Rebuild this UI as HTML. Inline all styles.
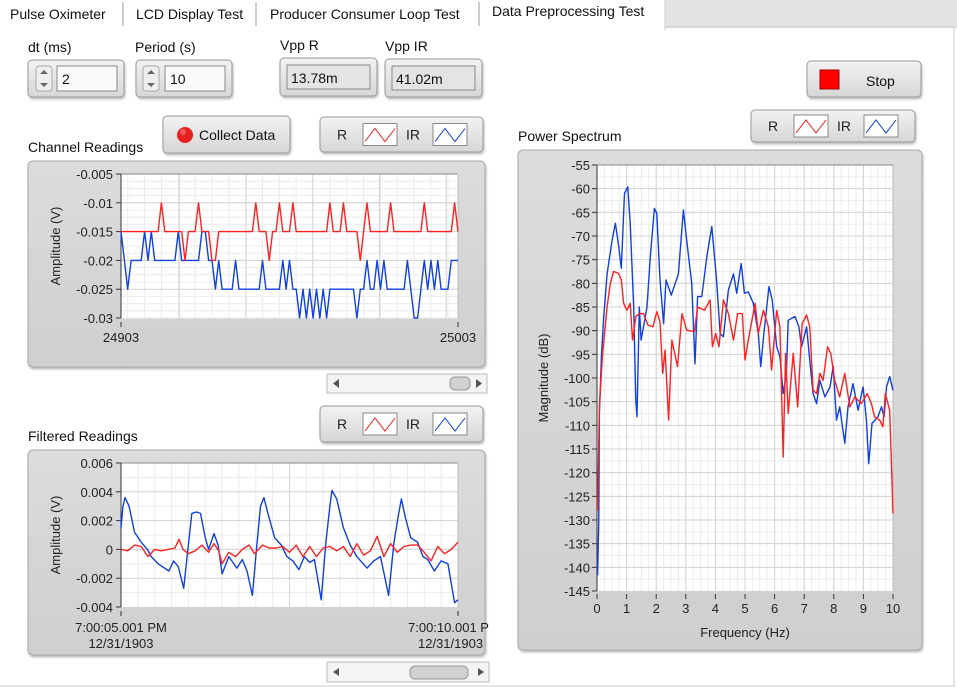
<!DOCTYPE html>
<html><head><meta charset="utf-8">
<style>
html,body{margin:0;padding:0;width:957px;height:688px;overflow:hidden;background:#fff;font-family:"Liberation Sans",sans-serif;}
svg text{font-family:"Liberation Sans",sans-serif;}
</style></head>
<body>
<svg id="ui" width="957" height="688" viewBox="0 0 957 688" xmlns="http://www.w3.org/2000/svg">
<defs>
<linearGradient id="btn" x1="0" y1="0" x2="0" y2="1"><stop offset="0" stop-color="#f2f2f2"/><stop offset="1" stop-color="#d6d6d6"/></linearGradient>
<linearGradient id="frm" x1="0" y1="0" x2="0" y2="1"><stop offset="0" stop-color="#dcdcdc"/><stop offset="1" stop-color="#cfcfcf"/></linearGradient>
<filter id="sh" x="-5%" y="-5%" width="110%" height="120%"><feDropShadow dx="1" dy="2" stdDeviation="1" flood-color="#000" flood-opacity="0.25"/></filter>
</defs>
<!-- tab strip -->
<rect x="0" y="0" width="957" height="28" fill="#fff"/>
<rect x="665" y="0" width="292" height="28" fill="#e3e3e3"/>
<g><text x="10" y="19" font-size="14" fill="#111">Pulse Oximeter</text></g>
<line x1="123" y1="2" x2="123" y2="26" stroke="#ccc" stroke-width="2"/>
<g><text x="136" y="19" font-size="14" fill="#111">LCD Display Test</text></g>
<line x1="256" y1="2" x2="256" y2="26" stroke="#ccc" stroke-width="2"/>
<g><text x="270" y="19" font-size="14" fill="#111">Producer Consumer Loop Test</text></g>
<line x1="479" y1="2" x2="479" y2="26" stroke="#ccc" stroke-width="2"/>
<g><rect x="480" y="0" width="185" height="30" fill="#fff"/><line x1="665" y1="0" x2="665" y2="30" stroke="#ccc"/><text x="492" y="16" font-size="14" fill="#111">Data Preprocessing Test</text></g>
<line x1="665" y1="27" x2="955" y2="27" stroke="#ccc"/>
<line x1="954" y1="28" x2="954" y2="686" stroke="#ccc"/>
<line x1="0" y1="686" x2="955" y2="686" stroke="#ccc"/>

<!-- numeric controls -->
<text x="28" y="52" font-size="14" fill="#111">dt (ms)</text>
<g>
<rect x="28" y="60" width="96" height="37" rx="4" fill="url(#btn)" stroke="#999" filter="url(#sh)"/>
<rect x="36" y="66" width="16" height="25" rx="3" fill="#eee" stroke="#aaa"/>
<path d="M40 74 L44 70 L48 74Z M40 83 L44 87 L48 83Z" fill="#666"/>
<rect x="57" y="66" width="60" height="25" fill="#fafafa" stroke="#888"/>
<text x="62" y="84" font-size="14" fill="#111">2</text></g>
<text x="135" y="52" font-size="14" fill="#111">Period (s)</text>
<g>
<rect x="136" y="60" width="96" height="37" rx="4" fill="url(#btn)" stroke="#999" filter="url(#sh)"/>
<rect x="143" y="66" width="16" height="25" rx="3" fill="#eee" stroke="#aaa"/>
<path d="M147 74 L151 70 L155 74Z M147 83 L151 87 L155 83Z" fill="#666"/>
<rect x="165" y="66" width="60" height="25" fill="#fafafa" stroke="#888"/>
<text x="170" y="84" font-size="14" fill="#111">10</text></g>
<text x="280" y="50" font-size="14" fill="#111">Vpp R</text>
<g>
<rect x="280" y="58" width="97" height="38" rx="4" fill="url(#btn)" stroke="#999" filter="url(#sh)"/>
<rect x="287" y="65" width="83" height="24" fill="#e4e4e4" stroke="#888"/>
<text x="291" y="83" font-size="14" fill="#111">13.78m</text></g>
<text x="385" y="51" font-size="14" fill="#111">Vpp IR</text>
<g>
<rect x="385" y="59" width="97" height="38" rx="4" fill="url(#btn)" stroke="#999" filter="url(#sh)"/>
<rect x="392" y="66" width="83" height="24" fill="#e4e4e4" stroke="#888"/>
<text x="396" y="84" font-size="14" fill="#111">41.02m</text></g>

<g>
<rect x="807" y="61" width="114" height="36" rx="4" fill="url(#btn)" stroke="#999" filter="url(#sh)"/>
<rect x="820" y="70" width="19" height="19" fill="#f00" stroke="#a00"/>
<text x="866" y="86" font-size="14" fill="#111">Stop</text></g>

<g>
<rect x="163" y="116" width="127" height="37" rx="4" fill="url(#btn)" stroke="#999" filter="url(#sh)"/>
<circle cx="185" cy="135" r="8" fill="#e82020"/><circle cx="183" cy="132" r="3" fill="#ff8080" opacity="0.6"/>
<text x="199" y="140" font-size="14" fill="#111">Collect Data</text></g>

<text x="28" y="152" font-size="14" fill="#111">Channel Readings</text>
<text x="28" y="441" font-size="14" fill="#111">Filtered Readings</text>
<text x="518" y="141" font-size="14" fill="#111">Power Spectrum</text>

<g id="legends"></g>

<!-- frames -->
<rect x="28" y="161" width="457" height="206" rx="5" fill="url(#frm)" stroke="#a8a8a8" filter="url(#sh)"/>
<rect x="28" y="450" width="457" height="205" rx="5" fill="url(#frm)" stroke="#a8a8a8" filter="url(#sh)"/>
<rect x="518" y="150" width="404" height="500" rx="5" fill="url(#frm)" stroke="#a8a8a8" filter="url(#sh)"/>

<g id="ch"></g><g id="fi"></g><g id="sp"></g>

<!-- scrollbars -->
<g>
<rect x="327" y="374" width="160" height="19" fill="#f4f4f4" stroke="#bbb"/>
<path d="M333 383.5 L339 379 L339 388Z" fill="#555"/><path d="M482 383.5 L476 379 L476 388Z" fill="#555"/>
<rect x="450" y="377" width="20" height="13" rx="5" fill="#d0d0d0" stroke="#999"/></g>
<g>
<rect x="327" y="662" width="162" height="20" fill="#f4f4f4" stroke="#bbb"/>
<path d="M333 672 L339 668 L339 676Z" fill="#555"/><path d="M484 672 L478 668 L478 676Z" fill="#555"/>
<rect x="410" y="666" width="58" height="13" rx="5" fill="#d0d0d0" stroke="#999"/></g>
</svg>
<script>
// ---------- data ----------
const chSamples = [];
const chRed = [-15,-15,-15,-15,-15,-15,-15,-15,-15,-15,-15,-15,-10,-15,-15,-15,-15,-15,-15,-20,-15,-15,-15,-10,-15,-15,-15,-20,-20,-15,-15,-15,-15,-15,-15,-15,-15,-15,-15,-15,-10,-15,-15,-15,-20,-15,-15,-10,-15,-15,-15,-10,-15,-15,-15,-15,-15,-15,-15,-15,-15,-15,-10,-15,-15,-15,-10,-15,-15,-15,-15,-20,-15,-10,-15,-15,-15,-15,-15,-15,-10,-15,-15,-15,-15,-15,-15,-15,-15,-15,-10,-15,-15,-15,-15,-15,-15,-15,-15,-10,-15];
const chIR = [-15,-20,-25,-20,-20,-20,-20,-15,-20,-15,-20,-20,-20,-20,-20,-20,-20,-15,-20,-20,-20,-20,-20,-20,-15,-15,-20,-20,-25,-20,-25,-25,-25,-25,-20,-25,-25,-25,-25,-25,-25,-25,-20,-25,-25,-25,-25,-25,-20,-25,-20,-25,-25,-30,-25,-30,-25,-30,-25,-30,-25,-30,-25,-25,-25,-25,-25,-25,-25,-25,-30,-25,-25,-20,-25,-25,-20,-25,-20,-25,-25,-25,-25,-25,-25,-20,-25,-30,-30,-25,-20,-25,-20,-25,-20,-25,-25,-25,-20,-20,-20];
const chYTicks = ["-0.005","-0.01","-0.015","-0.02","-0.025","-0.03"];
const chXTicks = ["24903","25003"];

const fiIRt = [0,0.03,0.06,0.12,0.2,0.3,0.39,0.45,0.55,0.71,0.78,0.85,0.93,0.98,1.05,1.12,1.18,1.25,1.3,1.38,1.44,1.5,1.6,1.72,1.8,1.87,1.95,2.0,2.07,2.12,2.18,2.28,2.38,2.46,2.55,2.64,2.72,2.8,2.87,2.97,3.04,3.1,3.13,3.2,3.3,3.4,3.5,3.65,3.75,3.85,3.97,4.05,4.12,4.16,4.22,4.3,4.4,4.48,4.55,4.65,4.75,4.85,4.95,5];
const fiIRv = [1.5,3.0,3.6,3.0,1.2,0.5,0,-0.5,-1.0,-1.5,-0.8,-1.2,-2.7,-0.5,2.5,2.6,2.5,0.8,0,1.1,0.3,-1.7,-0.5,-1.3,-0.7,-1.5,-3.2,-0.5,3.0,3.6,2.5,0.8,0.3,-0.5,-0.8,-1.4,-0.5,-0.9,-0.7,-3.5,0.5,3.0,4.1,3.5,1.5,0.3,-0.5,-1.3,-0.8,-0.5,-3.2,0.5,2.5,3.5,2.2,0.8,0.5,-0.5,-0.7,-1.5,-0.8,-1.0,-3.7,-3.5];
const fiRt = [0,0.1,0.2,0.3,0.4,0.5,0.6,0.7,0.8,0.86,0.92,1.0,1.1,1.2,1.3,1.38,1.45,1.5,1.6,1.7,1.8,1.9,1.98,2.1,2.2,2.3,2.4,2.5,2.6,2.7,2.8,2.9,3.0,3.1,3.2,3.3,3.4,3.5,3.6,3.7,3.8,3.9,4.0,4.1,4.2,4.3,4.4,4.5,4.6,4.7,4.8,4.9,5];
const fiRv = [0,-0.1,0.3,0.2,-0.5,0,-0.1,0,0.1,0.7,0,-0.3,-0.1,0.3,-0.2,0.4,-0.1,-1.0,-0.2,-0.5,0,0.3,-0.3,0.3,0.1,0.1,0.2,-0.2,0.3,-0.5,0.2,-0.5,0.1,0.2,-0.1,0.2,-0.5,0.4,-0.4,-0.1,0.9,-0.5,0.4,-0.2,0.2,0.3,0.3,-0.2,-0.8,0.2,-0.3,0,0.5];
const fiYTicks = ["0.006","0.004","0.002","0","-0.002","-0.004"];

const spIRf = [0.02,0.06,0.08,0.15,0.22,0.34,0.51,0.62,0.73,0.82,0.93,1.04,1.12,1.24,1.31,1.35,1.43,1.49,1.57,1.69,1.80,1.94,2.02,2.13,2.25,2.33,2.51,2.75,2.92,3.03,3.20,3.31,3.40,3.54,3.71,3.88,4.04,4.16,4.27,4.44,4.61,4.72,4.87,4.98,5.11,5.28,5.45,5.53,5.65,5.81,5.92,6.07,6.18,6.29,6.40,6.46,6.69,6.82,6.91,7.08,7.22,7.30,7.42,7.53,7.70,7.87,7.98,8.09,8.20,8.37,8.48,8.65,8.82,8.99,9.10,9.18,9.29,9.49,9.61,9.70,9.78,9.89,10];
const spIRdb = [-141.7,-130,-107.5,-95.5,-87.8,-78,-70.9,-67.3,-72,-76.8,-61,-59.6,-67.3,-85,-104.7,-108.2,-85,-92,-89.2,-85,-74.4,-64.2,-65.2,-79.3,-88.5,-79.3,-82.5,-78,-64.5,-70.9,-80,-97,-82.8,-82.8,-74.4,-68,-79.3,-90.6,-91.3,-81.4,-78,-82.1,-75.8,-82.1,-81.8,-84.2,-90.6,-97.6,-89.9,-80.7,-83.5,-93.4,-95.5,-103.3,-99,-87.8,-87,-89.2,-93.4,-89.2,-98.3,-103.3,-105.4,-100.5,-104,-101.9,-97.6,-108.9,-106.1,-113.8,-106.1,-101.2,-106.8,-101.9,-108.9,-118.1,-109.6,-108.2,-106.1,-108.2,-101.9,-99.7,-102.6];
const spRf = [0.02,0.08,0.19,0.34,0.45,0.56,0.73,0.82,0.90,1.01,1.12,1.20,1.31,1.43,1.57,1.72,1.89,2.02,2.13,2.22,2.30,2.42,2.53,2.72,2.87,3.03,3.29,3.40,3.63,3.82,3.90,4.01,4.12,4.27,4.44,4.61,4.75,4.91,5.00,5.11,5.34,5.45,5.62,5.79,5.90,6.07,6.18,6.29,6.37,6.46,6.63,6.78,6.93,7.08,7.19,7.30,7.42,7.53,7.64,7.79,7.90,8.03,8.20,8.37,8.54,8.71,8.93,9.13,9.27,9.38,9.55,9.66,9.74,9.89,10];
const spRdb = [-128,-106,-94.8,-85,-80,-77.5,-77.9,-79.3,-84.2,-85.7,-84.2,-92,-87,-86.4,-86.4,-88.8,-89.2,-86,-88.1,-99,-94.1,-108.9,-92,-97.6,-86.4,-89.9,-90.2,-85,-85.7,-83.5,-93.4,-90.6,-93.4,-83.5,-86.4,-92,-86.4,-86.4,-96.2,-92,-84.2,-90.6,-85.7,-89.2,-98.3,-85.7,-89.2,-116.7,-94.8,-107.5,-94.8,-106.1,-88.5,-86.7,-89.2,-102.6,-103.3,-99,-100.5,-93.4,-94.8,-100.5,-104,-99,-106.1,-104,-105.4,-103.3,-105.4,-108.2,-108.9,-110.3,-103.3,-106.8,-128.6];
const spYTicks = ["-55","-60","-65","-70","-75","-80","-85","-90","-95","-100","-105","-110","-115","-120","-125","-130","-135","-140","-145"];
const spXTicks = ["0","1","2","3","4","5","6","7","8","9","10"];
for (let i = 0; i < chRed.length; i++) chSamples.push(24903 + i);

// ---------- helpers ----------
const NS = "http://www.w3.org/2000/svg";
function mk(parent, tag, attrs, name) {
  const e = document.createElementNS(NS, tag);
  for (const k in attrs) e.setAttribute(k, attrs[k]);
  
  
  parent.appendChild(e);
  return e;
}
function txt(parent, x, y, s, anchor, size, name) {
  const t = mk(parent, 'text', {x: x, y: y, 'font-size': size || 13, fill: '#222', 'text-anchor': anchor || 'start'}, name);
  t.textContent = s;
  return t;
}
function plotBox(g, L, T, R, B, name) {
  mk(g, 'rect', {x: L, y: T, width: R - L, height: B - T, fill: '#fff'}, name);
}
function line(g, x1, y1, x2, y2, c, w, name) {
  mk(g, 'line', {x1: x1, y1: y1, x2: x2, y2: y2, stroke: c, 'stroke-width': w || 1}, name);
}
function poly(g, xs, ys, X, Y, color, name) {
  let d = '';
  for (let i = 0; i < xs.length; i++) d += (i ? 'L' : 'M') + X(xs[i]).toFixed(1) + ' ' + Y(ys[i]).toFixed(1);
  mk(g, 'path', {d: d, fill: 'none', stroke: color, 'stroke-width': 1.4, 'stroke-linejoin': 'round'}, name);
}
const RED = '#ff2020', BLUE = '#1040e0';

// ---------- legends ----------
function legend(x, y, w, h, name) {
  const g = document.getElementById('legends');
  mk(g, 'rect', {x: x, y: y, width: w, height: h, rx: 4, fill: 'url(#btn)', stroke: '#999', filter: 'url(#sh)'}, name);
  const cy = y + h / 2;
  txt(g, x + 17, cy + 5, 'R', 'start', 14, 'legend-label-r');
  mk(g, 'rect', {x: x + 43, y: cy - 11, width: 34, height: 22, fill: '#fff', stroke: '#888'}, 'legend-swatch-r');
  mk(g, 'path', {d: `M${x+45} ${cy+7} L${x+55} ${cy-6} L${x+65} ${cy+7} L${x+75} ${cy-6}`, fill: 'none', stroke: RED, 'stroke-width': 1}, 'legend-line-r');
  txt(g, x + 86, cy + 5, 'IR', 'start', 14, 'legend-label-ir');
  mk(g, 'rect', {x: x + 113, y: cy - 11, width: 34, height: 22, fill: '#fff', stroke: '#888'}, 'legend-swatch-ir');
  mk(g, 'path', {d: `M${x+115} ${cy+7} L${x+125} ${cy-6} L${x+135} ${cy+7} L${x+145} ${cy-6}`, fill: 'none', stroke: BLUE, 'stroke-width': 1}, 'legend-line-ir');
}
legend(320, 117, 163, 35, 'channel-legend');
legend(320, 406, 163, 36, 'filtered-legend');
legend(751, 110, 164, 32, 'spectrum-legend');

// ---------- channel readings ----------
(function () {
  const g = document.getElementById('ch');
  const L = 121, R = 458, T = 174, B = 318;
  const X = v => L + (v - chSamples[0]) / (chSamples[chSamples.length - 1] - chSamples[0]) * (R - L);
  const Y = v => T + (-5 - v) / 25 * (B - T);
  plotBox(g, L, T, R, B, 'channel-plot-area');
  for (let v = -5; v >= -30; v -= 1.25) line(g, L, Y(v), R, Y(v), '#ececec', 1, 'channel-minor-gridline');
  for (let s = 24905; s < 25003; s += 5) line(g, X(s), T, X(s), B, '#ececec', 1, 'channel-minor-gridline');
  for (let v = -10; v >= -25; v -= 5) line(g, L, Y(v), R, Y(v), '#d4d4d4', 1, 'channel-major-gridline');
  for (let s = 24920.3; s < 25003; s += 19.8) line(g, X(s), T, X(s), B, '#d4d4d4', 1, 'channel-major-gridline');
  line(g, L, T, R, T, '#888', 1, 'channel-plot-border');
  line(g, R, T, R, B, '#bbb', 1, 'channel-plot-border');
  line(g, L, T, L, B, '#333', 1, 'channel-y-axis');
  chYTicks.forEach((s, i) => {
    const y = T + i * (B - T) / (chYTicks.length - 1);
    line(g, L - 5, y, L, y, '#333', 1, 'channel-y-tick');
    txt(g, L - 8, y + 5, s, 'end', 13, 'channel-y-tick-label');
  });
  chXTicks.forEach((s, i) => {
    const x = L + i * (R - L);
    line(g, x, B + 4, x, B + 9, '#333', 1, 'channel-x-tick');
    txt(g, x, B + 24, s, 'middle', 13, 'channel-x-tick-label');
  });
  const yl = txt(g, 0, 0, 'Amplitude (V)', 'middle', 13, 'channel-y-axis-title');
  yl.setAttribute('transform', 'translate(60,246) rotate(-90)');
  poly(g, chSamples, chIR, X, Y, BLUE, 'channel-ir-line');
  poly(g, chSamples, chRed, X, Y, RED, 'channel-r-line');
})();

// ---------- filtered readings ----------
(function () {
  const g = document.getElementById('fi');
  const L = 121, R = 458, T = 463, B = 607;
  const X = t => L + t / 5 * (R - L);
  const Y = v => T + (6 - v) / 10 * (B - T);
  plotBox(g, L, T, R, B, 'filtered-plot-area');
  for (let v = 5; v > -4; v -= 1) line(g, L, Y(v), R, Y(v), '#ececec', 1, 'filtered-minor-gridline');
  for (let t = 0.25; t < 5; t += 0.25) line(g, X(t), T, X(t), B, '#ececec', 1, 'filtered-minor-gridline');
  for (let v = 4; v > -4; v -= 2) line(g, L, Y(v), R, Y(v), '#d4d4d4', 1, 'filtered-major-gridline');
  line(g, X(2.5), T, X(2.5), B, '#d4d4d4', 1, 'filtered-major-gridline');
  line(g, L, T, R, T, '#888', 1, 'filtered-plot-border');
  line(g, R, T, R, B, '#bbb', 1, 'filtered-plot-border');
  line(g, L, T, L, B, '#333', 1, 'filtered-y-axis');
  fiYTicks.forEach((s, i) => {
    const y = T + i * (B - T) / (fiYTicks.length - 1);
    line(g, L - 5, y, L, y, '#333', 1, 'filtered-y-tick');
    txt(g, L - 8, y + 5, s, 'end', 13, 'filtered-y-tick-label');
  });
  line(g, L, B + 4, L, B + 9, '#333', 1, 'filtered-x-tick');
  line(g, R, B + 4, R, B + 9, '#333', 1, 'filtered-x-tick');
  txt(g, L, B + 25, '7:00:05.001 PM', 'middle', 13, 'filtered-x-tick-label');
  txt(g, L, B + 41, '12/31/1903', 'middle', 13, 'filtered-x-date-label');
  const cl = document.createElementNS(NS, 'svg');
  cl.setAttribute('x', 0); cl.setAttribute('y', 0); cl.setAttribute('width', 490); cl.setAttribute('height', 688);
  
  
  g.appendChild(cl);
  txt(cl, R - 50, B + 25, '7:00:10.001 PM', 'start', 13, 'filtered-x-tick-label');
  txt(cl, R - 40, B + 41, '12/31/1903', 'start', 13, 'filtered-x-date-label');
  const yl = txt(g, 0, 0, 'Amplitude (V)', 'middle', 13, 'filtered-y-axis-title');
  yl.setAttribute('transform', 'translate(60,535) rotate(-90)');
  poly(g, fiIRt, fiIRv, X, Y, BLUE, 'filtered-ir-line');
  poly(g, fiRt, fiRv, X, Y, RED, 'filtered-r-line');
})();

// ---------- power spectrum ----------
(function () {
  const g = document.getElementById('sp');
  const L = 597, R = 893, T = 165, B = 591;
  const X = f => L + f / 10 * (R - L);
  const Y = d => T + (-55 - d) / 90 * (B - T);
  plotBox(g, L, T, R, B, 'spectrum-plot-area');
  for (let d = -57.5; d > -145; d -= 2.5) line(g, L, Y(d), R, Y(d), '#ececec', 1, 'spectrum-minor-gridline');
  for (let f = 0.25; f < 10; f += 0.25) line(g, X(f), T, X(f), B, '#ececec', 1, 'spectrum-minor-gridline');
  for (let d = -60; d > -145; d -= 5) line(g, L, Y(d), R, Y(d), '#d4d4d4', 1, 'spectrum-major-gridline');
  for (let f = 1; f < 10; f += 1) line(g, X(f), T, X(f), B, '#d4d4d4', 1, 'spectrum-major-gridline');
  line(g, L, T, R, T, '#888', 1, 'spectrum-plot-border');
  line(g, R, T, R, B, '#bbb', 1, 'spectrum-plot-border');
  line(g, L, T, L, B, '#333', 1, 'spectrum-y-axis');
  spYTicks.forEach((s, i) => {
    const y = T + i * (B - T) / (spYTicks.length - 1);
    line(g, L - 5, y, L, y, '#333', 1, 'spectrum-y-tick');
    txt(g, L - 7, y + 5, s, 'end', 13, 'spectrum-y-tick-label');
  });
  spXTicks.forEach((s, i) => {
    const x = L + i * (R - L) / (spXTicks.length - 1);
    line(g, x, B + 3, x, B + 8, '#333', 1, 'spectrum-x-tick');
    txt(g, x, B + 22, s, 'middle', 13, 'spectrum-x-tick-label');
  });
  txt(g, (L + R) / 2, B + 46, 'Frequency (Hz)', 'middle', 13, 'spectrum-x-axis-title');
  const yl = txt(g, 0, 0, 'Magnitude (dB)', 'middle', 13, 'spectrum-y-axis-title');
  yl.setAttribute('transform', 'translate(548,378) rotate(-90)');
  poly(g, spIRf, spIRdb, X, Y, BLUE, 'spectrum-ir-line');
  poly(g, spRf, spRdb, X, Y, RED, 'spectrum-r-line');
})();
</script>
</body></html>
